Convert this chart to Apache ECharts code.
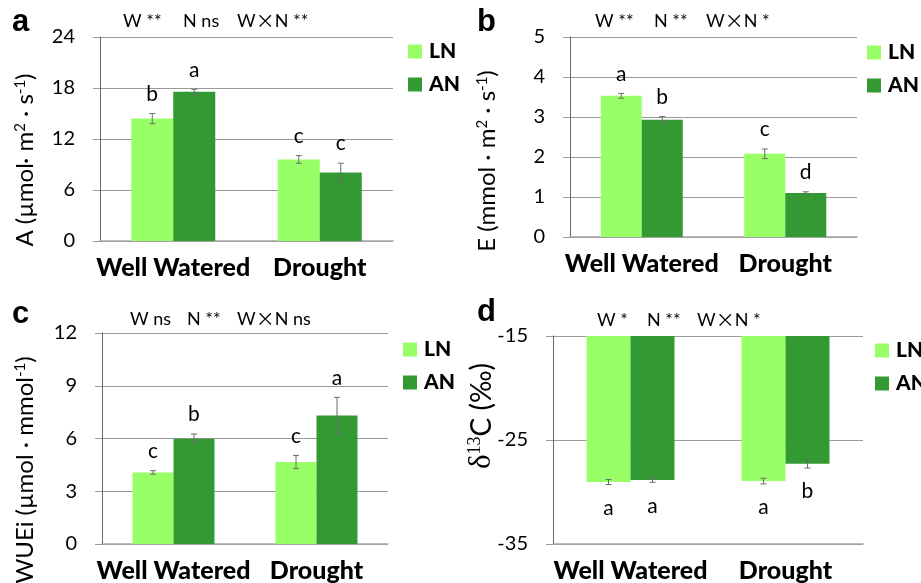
<!DOCTYPE html>
<html><head><meta charset="utf-8">
<script src="https://cdn.jsdelivr.net/npm/echarts@6/dist/echarts.min.js"></script>
<style>html,body{margin:0;padding:0;background:#fff}#c{width:921px;height:583px}</style>
</head><body><div id="c"></div>
<script>
// ---- data ----
const categories = ['Well Watered', 'Drought'];
const seriesNames = ['LN', 'AN'];

const A_LN = [14.4, 9.6];   const A_LN_err = [0.6, 0.45];  const A_LN_let = ['b', 'c'];
const A_AN = [17.55, 8.05]; const A_AN_err = [0.3, 1.1];   const A_AN_let = ['a', 'c'];
const A_ticks = [0, 6, 12, 18, 24];

const E_LN = [3.53, 2.08];  const E_LN_err = [0.06, 0.12]; const E_LN_let = ['a', 'c'];
const E_AN = [2.93, 1.10];  const E_AN_err = [0.08, 0.03]; const E_AN_let = ['b', 'd'];
const E_ticks = [0, 1, 2, 3, 4, 5];

const W_LN = [4.07, 4.66];  const W_LN_err = [0.1, 0.37];  const W_LN_let = ['c', 'c'];
const W_AN = [5.99, 7.31];  const W_AN_err = [0.26, 1.03]; const W_AN_let = ['b', 'a'];
const W_ticks = [0, 3, 6, 9, 12];

const D_LN = [-29.04, -28.95]; const D_LN_err = [0.24, 0.27]; const D_LN_let = ['a', 'a'];
const D_AN = [-28.85, -27.29]; const D_AN_err = [0.22, 0.41]; const D_AN_let = ['a', 'b'];
const D_ticks = [-35, -25, -15];

const statsA = ['W **', 'N ns', 'W\u00D7N **'];
const statsE = ['W **', 'N **', 'W\u00D7N *'];
const statsW = ['W ns', 'N **', 'W\u00D7N ns'];
const statsD = ['W *', 'N **', 'W\u00D7N *'];

// ---- style ----
const FONT = 'Lato, "Open Sans", sans-serif';
const C_LN = '#99FF66', C_AN = '#339933';

const panels = [
  {grid:{left:100, top:37, width:293, height:204}, bw:42, ticks:A_ticks,
   LN:A_LN, LNe:A_LN_err, LNl:A_LN_let, AN:A_AN, ANe:A_AN_err, ANl:A_AN_let, below:false,
   legend:{left:403, top:36}},
  {grid:{left:570, top:37, width:287, height:200}, bw:41, ticks:E_ticks,
   LN:E_LN, LNe:E_LN_err, LNl:E_LN_let, AN:E_AN, ANe:E_AN_err, ANl:E_AN_let, below:false,
   legend:{left:862, top:37}},
  {grid:{left:102, top:333, width:286, height:213}, bw:41, ticks:W_ticks,
   LN:W_LN, LNe:W_LN_err, LNl:W_LN_let, AN:W_AN, ANe:W_AN_err, ANl:W_AN_let, below:false,
   legend:{left:398, top:334}},
  {grid:{left:553, top:336, width:310, height:209}, bw:44, ticks:D_ticks,
   LN:D_LN, LNe:D_LN_err, LNl:D_LN_let, AN:D_AN, ANe:D_AN_err, ANl:D_AN_let, below:true,
   legend:{left:870, top:335}}
];

function errRender(vals, errs, lets, sign, halfW, below) {
  return function (params, api) {
    const i = params.dataIndex;
    const c = api.coord([i, vals[i]]);
    const x = c[0] + sign * halfW;
    const yt = api.coord([i, vals[i] + errs[i]])[1];
    const yb = api.coord([i, vals[i] - errs[i]])[1];
    const ls = {stroke: '#6b6b6b', lineWidth: 1};
    return {type: 'group', children: [
      {type: 'line', shape: {x1: x, y1: yt, x2: x, y2: yb}, style: ls},
      {type: 'line', shape: {x1: x - 3, y1: yt, x2: x + 3, y2: yt}, style: ls},
      {type: 'line', shape: {x1: x - 3, y1: yb, x2: x + 3, y2: yb}, style: ls},
      {type: 'text', style: {text: lets[i], x: x, y: below ? yb + 13 : yt - 9,
        textAlign: 'center', textVerticalAlign: below ? 'top' : 'bottom',
        align: 'center', verticalAlign: below ? 'top' : 'bottom',
        font: '21px ' + FONT, fill: '#000'}}
    ]};
  };
}

const grid = [], xAxis = [], yAxis = [], series = [], legend = [];
panels.forEach((p, k) => {
  grid.push(p.grid);
  xAxis.push({type: 'category', gridIndex: k, data: categories,
    axisLine: {show: true, lineStyle: {color: '#a6a6a6', width: 1.5}},
    axisTick: {show: false},
    axisLabel: {interval: 0, fontFamily: FONT, fontWeight: 900, fontSize: 25, color: '#000', margin: 14}});
  const t = p.ticks;
  yAxis.push({type: 'value', gridIndex: k, min: t[0], max: t[t.length - 1],
    interval: t[1] - t[0],
    axisLine: {show: true, lineStyle: {color: '#666', width: 1}},
    axisTick: {show: true, length: 7, lineStyle: {color: '#999'}},
    splitLine: {show: true, lineStyle: {color: '#999', width: 1}},
    axisLabel: {fontFamily: FONT, fontSize: 20, color: '#000', margin: 25}});
  series.push({name: 'LN', type: 'bar', xAxisIndex: k, yAxisIndex: k, data: p.LN,
    barWidth: p.bw, barGap: '0%', itemStyle: {color: C_LN}, clip: true, silent: true});
  series.push({name: 'AN', type: 'bar', xAxisIndex: k, yAxisIndex: k, data: p.AN,
    barWidth: p.bw, barGap: '0%', itemStyle: {color: C_AN}, clip: true, silent: true});
  series.push({type: 'custom', xAxisIndex: k, yAxisIndex: k, z: 5,
    data: p.LN.map((v, i) => [i, v]),
    renderItem: errRender(p.LN, p.LNe, p.LNl, -1, p.bw / 2, p.below)});
  series.push({type: 'custom', xAxisIndex: k, yAxisIndex: k, z: 5,
    data: p.AN.map((v, i) => [i, v]),
    renderItem: errRender(p.AN, p.ANe, p.ANl, 1, p.bw / 2, p.below)});
  legend.push({left: p.legend.left, top: p.legend.top, orient: 'vertical', data: seriesNames,
    icon: 'rect', itemWidth: 14, itemHeight: 14, itemGap: 12, selectedMode: false,
    textStyle: {fontFamily: FONT, fontWeight: 900, fontSize: 21, color: '#000', padding: [0, 0, 0, 2]}});
});

function txt(x, y, s, size) {
  return {type: 'text', x: x, y: y, style: {text: s,
    font: size + 'px Lato, "Noto Sans CJK SC", sans-serif',
    fill: '#000', textVerticalAlign: 'middle', verticalAlign: 'middle'}};
}
function stat(x, y, s) {
  // use wide CJK multiplication sign like the original
  const parts = s.split('\u00D7');
  if (parts.length === 1) return [txt(x, y, s, 18)];
  return [{type: 'text', x: x, y: y, style: {
    text: '{a|' + parts[0] + '}{m|\u00D7}{a|' + parts[1] + '}',
    rich: {a: {fontFamily: FONT, fontSize: 18, color: '#000'},
           m: {fontFamily: '"Noto Sans CJK SC"', fontSize: 19, color: '#000'}},
    textVerticalAlign: 'middle', verticalAlign: 'middle'}}];
}
const graphic = [];
// panel letters
[['a', 12, 22], ['b', 477, 22], ['c', 12, 314], ['d', 477, 312]].forEach(d => {
  graphic.push({type: 'text', x: d[1], y: d[2], style: {text: d[0], font: 'bold 31px "Liberation Sans", Arial, sans-serif',
    fill: '#000', textVerticalAlign: 'middle', verticalAlign: 'middle'}});
});
// stats annotations
[[statsA, [123, 183, 237], 21], [statsE, [595, 654, 706], 21], [statsW, [130, 187, 237], 319], [statsD, [597, 647, 697], 320]]
  .forEach(d => d[0].forEach((s, i) => stat(d[1][i], d[2], s).forEach(g => graphic.push(g))));
// y-axis titles
function ytitle(x, y, rich) {
  return {type: 'text', x: x, y: y, rotation: Math.PI / 2,
    style: {rich: rich.styles, text: rich.text, textAlign: 'center', align: 'center',
      textVerticalAlign: 'middle', verticalAlign: 'middle', font: '24px ' + FONT, fill: '#000'}};
}
const rs = {
  n: {fontFamily: FONT, fontSize: 24, color: '#000'},
  s: {fontFamily: FONT, fontSize: 15, color: '#000', verticalAlign: 'top', lineHeight: 24},
  dn: {fontFamily: FONT, fontSize: 28, color: '#000'},
  g: {fontFamily: '"Liberation Serif", serif', fontSize: 31, color: '#000'},
  gs: {fontFamily: '"Liberation Serif", serif', fontSize: 18, color: '#000', verticalAlign: 'top', lineHeight: 30}
};
graphic.push(ytitle(25, 160, {styles: rs, text: '{n|A (\u00B5mol\u00B7 m}{s|2}{n| \u00B7 s}{s|-1}{n|)}'}));
graphic.push(ytitle(487, 161, {styles: rs, text: '{n|E (mmol \u00B7 m}{s|2}{n| \u00B7 s}{s|-1}{n|)}'}));
graphic.push(ytitle(25, 470, {styles: rs, text: '{n|WUEi (\u00B5mol \u00B7 mmol}{s|-1}{n|)}'}));
graphic.push(ytitle(482, 416, {styles: rs, text: '{g|\u03B4}{gs|13}{dn|C (\u2030)}'}));

const chart = echarts.init(document.getElementById('c'), null, {renderer: 'canvas'});
chart.setOption({animation: false, backgroundColor: '#fff', grid, xAxis, yAxis, series, legend, graphic});
</script></body></html>
